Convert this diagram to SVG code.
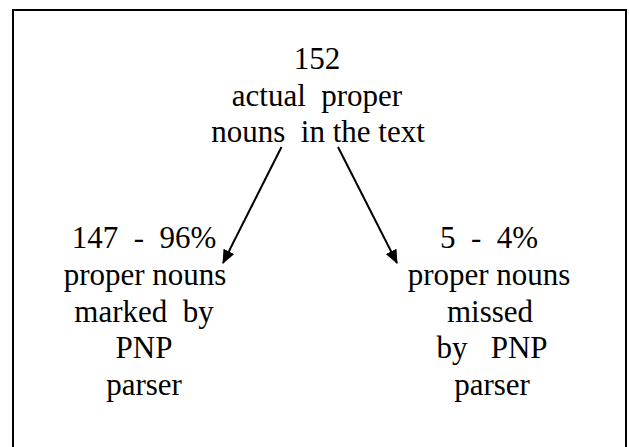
<svg xmlns="http://www.w3.org/2000/svg" width="629" height="447" viewBox="0 0 629 447">
  <style>
    .t { font-family: "Liberation Serif", "Times New Roman", serif; font-size: 31px; fill: #000; text-anchor: middle; white-space: pre; }
    .edge { stroke: #000; stroke-width: 2; fill: none; }
  </style>
  <defs>
    <marker id="arrow" viewBox="0 0 14 12" refX="13" refY="6" markerWidth="14" markerHeight="12" markerUnits="userSpaceOnUse" orient="auto">
      <path d="M0,0 L14,6 L0,12 Z" fill="#000"/>
    </marker>
  </defs>
  <rect x="13" y="10" width="613" height="470" fill="#fff" stroke="#000" stroke-width="2"/>
  <g id="node-total">
    <text class="t" x="317" y="69">152</text>
    <text class="t" x="317" y="106" xml:space="preserve">actual  proper</text>
    <text class="t" x="318" y="142" xml:space="preserve">nouns  in the text</text>
  </g>
  <g id="node-marked">
    <text class="t" x="144" y="248" xml:space="preserve">147  -  96%</text>
    <text class="t" x="145" y="285">proper nouns</text>
    <text class="t" x="144" y="321.5" xml:space="preserve">marked  by</text>
    <text class="t" x="144" y="358">PNP</text>
    <text class="t" x="144" y="394.5">parser</text>
  </g>
  <g id="node-missed">
    <text class="t" x="489" y="248" xml:space="preserve">5  -  4%</text>
    <text class="t" x="489" y="285">proper nouns</text>
    <text class="t" x="490" y="321.5">missed</text>
    <text class="t" x="492" y="358" xml:space="preserve">by   PNP</text>
    <text class="t" x="492" y="394.5">parser</text>
  </g>
  <g id="connectors">
    <line class="edge" x1="281.5" y1="147" x2="223" y2="263" marker-end="url(#arrow)"/>
    <line class="edge" x1="338" y1="147" x2="397" y2="263" marker-end="url(#arrow)"/>
  </g>
</svg>
